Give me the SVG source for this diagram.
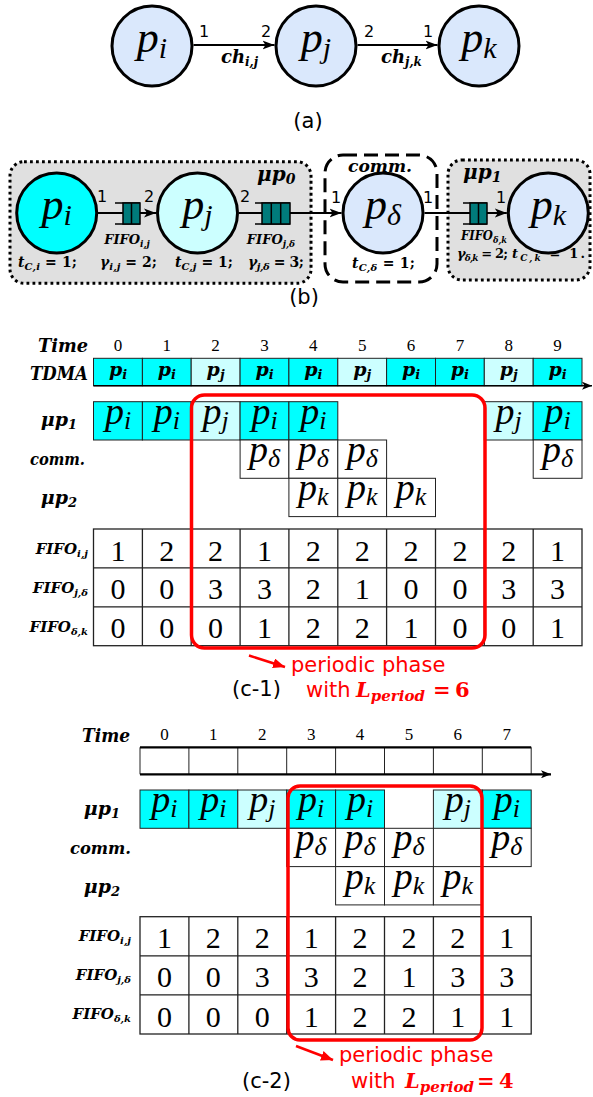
<svg xmlns="http://www.w3.org/2000/svg" width="593" height="1097" viewBox="0 0 593 1097">
<defs>
<style>
.sans{font-family:"DejaVu Sans",sans-serif}
.mi{font-family:"Liberation Serif","Times New Roman",serif;font-style:italic}
.mb{font-family:"DejaVu Serif",serif;font-style:italic;font-weight:bold}
.up{font-style:normal}
.rm{font-family:"Liberation Serif","Times New Roman",serif}
.node{stroke:#000;stroke-width:3}
.cell{stroke:#222;stroke-width:1}
.cy{fill:#00ffff}
.lc{fill:#ccffff}
.bl{fill:#dae8fc}
.wh{fill:#fff}
.edge{stroke:#000;stroke-width:2;fill:none}
.red{fill:none;stroke:#ff0000;stroke-width:3.5}
.rt{fill:#ff0000}
.q{fill:#007b7b;stroke:#000;stroke-width:1.5}
.ql{stroke:#000;stroke-width:1.5;fill:none}
.grp{fill:#e0e0e0;stroke:#000;stroke-width:3;stroke-dasharray:2.8 3.2}
.dash{fill:none;stroke:#000;stroke-width:3;stroke-dasharray:14 7}
</style>
<marker id="arr" viewBox="0 0 12 10" refX="12" refY="5" markerWidth="12" markerHeight="10" markerUnits="userSpaceOnUse" orient="auto"><path d="M0,0.5 L12,5 L0,9.5 L3,5 Z" fill="#000"/></marker>
<marker id="tarr" viewBox="0 0 10 8" refX="10" refY="4" markerWidth="10" markerHeight="8" markerUnits="userSpaceOnUse" orient="auto"><path d="M0,0 L10,4 L0,8 L2.5,4 Z" fill="#000"/></marker>
<marker id="rarr" viewBox="0 0 12 10" refX="12" refY="5" markerWidth="12" markerHeight="10" markerUnits="userSpaceOnUse" orient="auto"><path d="M0,0 L12,5 L0,10 Z" fill="#ff0000"/></marker>
</defs>
<rect width="593" height="1097" fill="#fff"/>

<!-- (a) process graph -->
<g id="a-edges">
<path class="edge" d="M193.5,45 H274.5" marker-end="url(#arr)"/>
<path class="edge" d="M357.5,45 H437.5" marker-end="url(#arr)"/>
<g class="sans" font-size="16" text-anchor="middle">
<text x="204" y="37">1</text><text x="266" y="37">2</text>
<text x="369" y="37">2</text><text x="428" y="37">1</text>
</g>
<text class="mb" x="239.5" y="63" font-size="18" text-anchor="middle">ch<tspan font-size="12" dy="3">i,j</tspan></text>
<text class="mb" x="401.5" y="63" font-size="18" text-anchor="middle">ch<tspan font-size="12" dy="3">j,k</tspan></text>
</g>
<g id="a-pi"><circle class="node bl" cx="152" cy="46" r="40"/><text class="mi" x="152" y="52" text-anchor="middle" font-size="44">p<tspan font-size="30" dy="6">i</tspan></text></g>
<g id="a-pj"><circle class="node bl" cx="316" cy="46" r="40"/><text class="mi" x="316" y="52" text-anchor="middle" font-size="44">p<tspan font-size="30" dy="6">j</tspan></text></g>
<g id="a-pk"><circle class="node bl" cx="479" cy="46" r="40"/><text class="mi" x="479" y="52" text-anchor="middle" font-size="44">p<tspan font-size="30" dy="6">k</tspan></text></g>
<text class="sans" x="308" y="128" font-size="21" text-anchor="middle">(a)</text>

<!-- (b) mapped graph with FIFO channels -->
<g id="b-mp0"><rect class="grp" x="10" y="161.7" width="301" height="121.6" rx="14"/>
<text class="mb" x="257" y="181" font-size="20">μp<tspan font-size="14" dy="3">0</tspan></text></g>
<g id="b-comm"><rect class="dash" x="325" y="155" width="112" height="127" rx="18"/>
<text class="mb" x="348" y="172" font-size="17" textLength="64" lengthAdjust="spacingAndGlyphs">comm.</text></g>
<g id="b-mp1"><rect class="grp" x="448" y="160" width="142" height="120" rx="14"/>
<text class="mb" x="463" y="179" font-size="20">μp<tspan font-size="14" dy="3">1</tspan></text></g>

<g id="b-edges">
<path class="edge" d="M98,213 H123"/>
<path class="edge" d="M140,213 H156" marker-end="url(#arr)"/>
<path class="edge" d="M239,213 H262"/>
<path class="edge" d="M290,213 H341.5" marker-end="url(#arr)"/>
<path class="edge" d="M424.5,213 H470"/>
<path class="edge" d="M487,213 H506.8" marker-end="url(#arr)"/>
<g class="sans" font-size="16" text-anchor="middle">
<text x="102" y="202">1</text><text x="149" y="202">2</text><text x="245" y="202">2</text>
<text x="336" y="203">1</text><text x="428" y="203">1</text><text x="501" y="203">1</text>
</g>
</g>
<g id="b-fifo-ij">
<path class="ql" d="M115,203 H140 M115,224 H140"/>
<rect class="q" x="123" y="203" width="17" height="21"/>
<path class="ql" d="M131.5,203 V224"/>
<text class="mb" x="127" y="244" font-size="13" text-anchor="middle">FIFO<tspan font-size="9" dy="3">i,j</tspan></text>
</g>
<g id="b-fifo-jd">
<path class="ql" d="M255,203 H290 M255,224 H290"/>
<rect class="q" x="262" y="203" width="28" height="21"/>
<path class="ql" d="M271.3,203 V224 M280.7,203 V224"/>
<text class="mb" x="271" y="244" font-size="13" text-anchor="middle">FIFO<tspan font-size="9" dy="3">j,δ</tspan></text>
</g>
<g id="b-fifo-dk">
<path class="ql" d="M463,203 H487 M463,224 H487"/>
<rect class="q" x="470" y="203" width="17" height="21"/>
<path class="ql" d="M478.5,203 V224"/>
<text class="mb" x="461" y="240" font-size="12" textLength="46" lengthAdjust="spacingAndGlyphs">FIFO<tspan font-size="8.5" dy="3">δ,k</tspan></text>
</g>
<g id="b-pi"><circle class="node cy" cx="56.7" cy="213" r="40"/><text class="mi" x="56.7" y="219" text-anchor="middle" font-size="44">p<tspan font-size="30" dy="6">i</tspan></text></g>
<g id="b-pj"><circle class="node lc" cx="197.5" cy="213" r="40"/><text class="mi" x="197.5" y="219" text-anchor="middle" font-size="44">p<tspan font-size="30" dy="6">j</tspan></text></g>
<g id="b-pd"><circle class="node bl" cx="383" cy="213" r="40"/><text class="mi" x="383" y="219" text-anchor="middle" font-size="44">p<tspan font-size="30" dy="6">δ</tspan></text></g>
<g id="b-pk"><circle class="node bl" cx="548.3" cy="213" r="40"/><text class="mi" x="548.3" y="219" text-anchor="middle" font-size="44">p<tspan font-size="30" dy="6">k</tspan></text></g>
<g id="b-params" class="mb" font-size="14" lengthAdjust="spacingAndGlyphs">
<text x="18" y="267" textLength="59">t<tspan font-size="10" dy="3">C,i</tspan><tspan class="up" dy="-3"> = 1;</tspan></text>
<text x="100" y="267" textLength="57">γ<tspan font-size="10" dy="3">i,j</tspan><tspan class="up" dy="-3"> = 2;</tspan></text>
<text x="175" y="267" textLength="58">t<tspan font-size="10" dy="3">C,j</tspan><tspan class="up" dy="-3"> = 1;</tspan></text>
<text x="248" y="267" textLength="56">γ<tspan font-size="10" dy="3">j,δ</tspan><tspan class="up" dy="-3"> = 3;</tspan></text>
<text x="352" y="268" textLength="63">t<tspan font-size="10" dy="3">C,δ</tspan><tspan class="up" dy="-3"> = 1;</tspan></text>
<text x="457" y="258" font-size="13" textLength="51">γ<tspan font-size="9" dy="3">δ,k</tspan><tspan class="up" dy="-3"> = 2;</tspan></text>
<text x="512" y="258" font-size="13" textLength="73">t<tspan font-size="9" dy="3">C,k</tspan><tspan class="up" dy="-3"> = 1.</tspan></text>
</g>
<text class="sans" x="304" y="304" font-size="21" text-anchor="middle">(b)</text>

<!-- (c-1) schedule with TDMA -->
<g id="c1-labels" class="mb">
<text x="88" y="352" font-size="19" text-anchor="end" textLength="50" lengthAdjust="spacingAndGlyphs">Time</text>
<text x="88" y="380" font-size="19" text-anchor="end" textLength="58" lengthAdjust="spacingAndGlyphs">TDMA</text>
<text x="77" y="426" font-size="19" text-anchor="end">μp<tspan font-size="13" dy="3">1</tspan></text>
<text x="85" y="465" font-size="17" text-anchor="end" textLength="55" lengthAdjust="spacingAndGlyphs">comm.</text>
<text x="77" y="504" font-size="19" text-anchor="end">μp<tspan font-size="13" dy="3">2</tspan></text>
<text x="88" y="554" font-size="15" text-anchor="end">FIFO<tspan font-size="10" dy="3">i,j</tspan></text>
<text x="88" y="593" font-size="15" text-anchor="end">FIFO<tspan font-size="10" dy="3">j,δ</tspan></text>
<text x="88" y="632" font-size="15" text-anchor="end">FIFO<tspan font-size="10" dy="3">δ,k</tspan></text>
</g>
<text class="rm" font-size="17" text-anchor="middle" y="351" x="118 166.8 215.6 264.5 313.3 362.2 411 459.9 508.7 557.6">0123456789</text>
<g id="c1-tdma">
<g class="cell">
<rect class="cy" x="93.5" y="358.3" width="48.9" height="27.4"/><rect class="cy" x="142.4" y="358.3" width="48.8" height="27.4"/>
<rect class="lc" x="191.2" y="358.3" width="48.9" height="27.4"/><rect class="cy" x="240.1" y="358.3" width="48.8" height="27.4"/>
<rect class="cy" x="288.9" y="358.3" width="48.9" height="27.4"/><rect class="lc" x="337.8" y="358.3" width="48.8" height="27.4"/>
<rect class="cy" x="386.6" y="358.3" width="48.9" height="27.4"/><rect class="cy" x="435.5" y="358.3" width="48.8" height="27.4"/>
<rect class="lc" x="484.3" y="358.3" width="48.9" height="27.4"/><rect class="cy" x="533.2" y="358.3" width="48.8" height="27.4"/>
</g>
<path d="M93.5,385.7 H592" stroke="#000" stroke-width="1.5" marker-end="url(#tarr)"/>
<g class="mb" font-size="19" text-anchor="middle">
<text x="118" y="376">p<tspan font-size="13" dy="3">i</tspan></text>
<text x="166.8" y="376">p<tspan font-size="13" dy="3">i</tspan></text>
<text x="215.6" y="376">p<tspan font-size="13" dy="3">j</tspan></text>
<text x="264.5" y="376">p<tspan font-size="13" dy="3">i</tspan></text>
<text x="313.3" y="376">p<tspan font-size="13" dy="3">i</tspan></text>
<text x="362.2" y="376">p<tspan font-size="13" dy="3">j</tspan></text>
<text x="411" y="376">p<tspan font-size="13" dy="3">i</tspan></text>
<text x="459.9" y="376">p<tspan font-size="13" dy="3">i</tspan></text>
<text x="508.7" y="376">p<tspan font-size="13" dy="3">j</tspan></text>
<text x="557.6" y="376">p<tspan font-size="13" dy="3">i</tspan></text>
</g>
</g>
<g id="c1-gantt">
<g class="cell">
<rect class="cy" x="93.5" y="401.7" width="48.9" height="38.3"/><rect class="cy" x="142.4" y="401.7" width="48.8" height="38.3"/>
<rect class="lc" x="191.2" y="401.7" width="48.9" height="38.3"/><rect class="cy" x="240.1" y="401.7" width="48.8" height="38.3"/>
<rect class="cy" x="288.9" y="401.7" width="48.9" height="38.3"/>
<rect class="lc" x="484.3" y="401.7" width="48.9" height="38.3"/><rect class="cy" x="533.2" y="401.7" width="48.8" height="38.3"/>
<rect class="wh" x="240.1" y="440" width="48.8" height="38.3"/><rect class="wh" x="288.9" y="440" width="48.9" height="38.3"/>
<rect class="wh" x="337.8" y="440" width="48.8" height="38.3"/><rect class="wh" x="533.2" y="440" width="48.8" height="38.3"/>
<rect class="wh" x="288.9" y="478.3" width="48.9" height="38.3"/><rect class="wh" x="337.8" y="478.3" width="48.8" height="38.3"/>
<rect class="wh" x="386.6" y="478.3" width="48.9" height="38.3"/>
</g>
<g class="mi" font-size="38" text-anchor="middle">
<text x="118" y="423.7">p<tspan font-size="26" dy="5">i</tspan></text>
<text x="166.8" y="423.7">p<tspan font-size="26" dy="5">i</tspan></text>
<text x="215.6" y="423.7">p<tspan font-size="26" dy="5">j</tspan></text>
<text x="264.5" y="423.7">p<tspan font-size="26" dy="5">i</tspan></text>
<text x="313.3" y="423.7">p<tspan font-size="26" dy="5">i</tspan></text>
<text x="508.7" y="423.7">p<tspan font-size="26" dy="5">j</tspan></text>
<text x="557.6" y="423.7">p<tspan font-size="26" dy="5">i</tspan></text>
<text x="264.5" y="462">p<tspan font-size="26" dy="5">δ</tspan></text>
<text x="313.3" y="462">p<tspan font-size="26" dy="5">δ</tspan></text>
<text x="362.2" y="462">p<tspan font-size="26" dy="5">δ</tspan></text>
<text x="557.6" y="462">p<tspan font-size="26" dy="5">δ</tspan></text>
<text x="313.3" y="500.3">p<tspan font-size="26" dy="5">k</tspan></text>
<text x="362.2" y="500.3">p<tspan font-size="26" dy="5">k</tspan></text>
<text x="411" y="500.3">p<tspan font-size="26" dy="5">k</tspan></text>
</g>
</g>
<g id="c1-fifo">
<rect x="93.5" y="529" width="488.5" height="116.7" fill="#fff" stroke="#222" stroke-width="1.3"/>
<path d="M93.5,567.9 H582 M93.5,606.8 H582 M142.4,529 V645.7 M191.2,529 V645.7 M240.1,529 V645.7 M288.9,529 V645.7 M337.8,529 V645.7 M386.6,529 V645.7 M435.5,529 V645.7 M484.3,529 V645.7 M533.2,529 V645.7" stroke="#222" stroke-width="1.3"/>
<g class="rm" font-size="30" text-anchor="middle">
<text y="560.5" x="118 166.8 215.6 264.5 313.3 362.2 411 459.9 508.7 557.6">1221222221</text>
<text y="599.4" x="118 166.8 215.6 264.5 313.3 362.2 411 459.9 508.7 557.6">0033210033</text>
<text y="638.3" x="118 166.8 215.6 264.5 313.3 362.2 411 459.9 508.7 557.6">0001221001</text>
</g>
</g>
<g id="c1-period">
<rect class="red" x="191.5" y="395" width="293.5" height="253" rx="13"/>
<path d="M249,655.5 L285,667" stroke="#ff0000" stroke-width="2.5" marker-end="url(#rarr)"/>
<text class="sans rt" x="291" y="672" font-size="21">periodic phase</text>
<text class="sans rt" x="306" y="697" font-size="21">with</text>
<text class="mb rt" x="356" y="697" font-size="21">L<tspan font-size="15" dy="4">period</tspan></text>
<text class="mb up rt" x="433" y="697" font-size="21">=</text>
<text class="mb up rt" x="455" y="697" font-size="21">6</text>
</g>
<text class="sans" x="232" y="696" font-size="21">(c-1)</text>

<!-- (c-2) schedule without TDMA -->
<g id="c2-labels" class="mb">
<text x="130" y="742" font-size="19" text-anchor="end" textLength="48" lengthAdjust="spacingAndGlyphs">Time</text>
<text x="120" y="815" font-size="19" text-anchor="end">μp<tspan font-size="13" dy="3">1</tspan></text>
<text x="131" y="854" font-size="17" text-anchor="end" textLength="61" lengthAdjust="spacingAndGlyphs">comm.</text>
<text x="120" y="893" font-size="19" text-anchor="end">μp<tspan font-size="13" dy="3">2</tspan></text>
<text x="131" y="941" font-size="15" text-anchor="end">FIFO<tspan font-size="10" dy="3">i,j</tspan></text>
<text x="131" y="980" font-size="15" text-anchor="end">FIFO<tspan font-size="10" dy="3">j,δ</tspan></text>
<text x="131" y="1019" font-size="15" text-anchor="end">FIFO<tspan font-size="10" dy="3">δ,k</tspan></text>
</g>
<text class="rm" font-size="17" text-anchor="middle" y="740" x="164.45 213.35 262.25 311.15 360.05 408.95 457.85 506.75">01234567</text>
<g id="c2-timeline">
<rect x="140" y="747.3" width="391.2" height="27" fill="#fff"/>
<path d="M140,747.3 V774.3 M188.9,747.3 V774.3 M237.8,747.3 V774.3 M286.7,747.3 V774.3 M335.6,747.3 V774.3 M384.5,747.3 V774.3 M433.4,747.3 V774.3 M482.3,747.3 V774.3 M531.2,747.3 V774.3" stroke="#222" stroke-width="1"/>
<path d="M140,747.3 H531.2" stroke="#000" stroke-width="2.2"/>
<path d="M140,774.3 H551" stroke="#000" stroke-width="2.2" marker-end="url(#tarr)"/>
</g>
<g id="c2-gantt">
<g class="cell">
<rect class="cy" x="140" y="790" width="48.9" height="38.3"/><rect class="cy" x="188.9" y="790" width="48.9" height="38.3"/>
<rect class="lc" x="237.8" y="790" width="48.9" height="38.3"/><rect class="cy" x="286.7" y="790" width="48.9" height="38.3"/>
<rect class="cy" x="335.6" y="790" width="48.9" height="38.3"/>
<rect class="lc" x="433.4" y="790" width="48.9" height="38.3"/><rect class="cy" x="482.3" y="790" width="48.9" height="38.3"/>
<rect class="wh" x="286.7" y="828.3" width="48.9" height="38.3"/><rect class="wh" x="335.6" y="828.3" width="48.9" height="38.3"/>
<rect class="wh" x="384.5" y="828.3" width="48.9" height="38.3"/><rect class="wh" x="482.3" y="828.3" width="48.9" height="38.3"/>
<rect class="wh" x="335.6" y="866.6" width="48.9" height="38.3"/><rect class="wh" x="384.5" y="866.6" width="48.9" height="38.3"/>
<rect class="wh" x="433.4" y="866.6" width="48.9" height="38.3"/>
</g>
<g class="mi" font-size="38" text-anchor="middle">
<text x="164.45" y="812">p<tspan font-size="26" dy="5">i</tspan></text>
<text x="213.35" y="812">p<tspan font-size="26" dy="5">i</tspan></text>
<text x="262.25" y="812">p<tspan font-size="26" dy="5">j</tspan></text>
<text x="311.15" y="812">p<tspan font-size="26" dy="5">i</tspan></text>
<text x="360.05" y="812">p<tspan font-size="26" dy="5">i</tspan></text>
<text x="457.85" y="812">p<tspan font-size="26" dy="5">j</tspan></text>
<text x="506.75" y="812">p<tspan font-size="26" dy="5">i</tspan></text>
<text x="311.15" y="850.3">p<tspan font-size="26" dy="5">δ</tspan></text>
<text x="360.05" y="850.3">p<tspan font-size="26" dy="5">δ</tspan></text>
<text x="408.95" y="850.3">p<tspan font-size="26" dy="5">δ</tspan></text>
<text x="506.75" y="850.3">p<tspan font-size="26" dy="5">δ</tspan></text>
<text x="360.05" y="888.6">p<tspan font-size="26" dy="5">k</tspan></text>
<text x="408.95" y="888.6">p<tspan font-size="26" dy="5">k</tspan></text>
<text x="457.85" y="888.6">p<tspan font-size="26" dy="5">k</tspan></text>
</g>
</g>
<g id="c2-fifo">
<rect x="140" y="916.7" width="391.2" height="117.3" fill="#fff" stroke="#222" stroke-width="1.3"/>
<path d="M140,955.8 H531.2 M140,994.9 H531.2 M188.9,916.7 V1034 M237.8,916.7 V1034 M286.7,916.7 V1034 M335.6,916.7 V1034 M384.5,916.7 V1034 M433.4,916.7 V1034 M482.3,916.7 V1034" stroke="#222" stroke-width="1.3"/>
<g class="rm" font-size="30" text-anchor="middle">
<text y="948.3" x="164.45 213.35 262.25 311.15 360.05 408.95 457.85 506.75">12212221</text>
<text y="987.4" x="164.45 213.35 262.25 311.15 360.05 408.95 457.85 506.75">00332133</text>
<text y="1026.5" x="164.45 213.35 262.25 311.15 360.05 408.95 457.85 506.75">00012211</text>
</g>
</g>
<g id="c2-period">
<rect class="red" x="288" y="786" width="194" height="254" rx="12"/>
<path d="M296,1046 L333,1060" stroke="#ff0000" stroke-width="2.5" marker-end="url(#rarr)"/>
<text class="sans rt" x="339" y="1062" font-size="21">periodic phase</text>
<text class="sans rt" x="351" y="1088" font-size="21">with</text>
<text class="mb rt" x="405" y="1088" font-size="21">L<tspan font-size="15" dy="4">period</tspan></text>
<text class="mb up rt" x="477" y="1088" font-size="21">=</text>
<text class="mb up rt" x="499" y="1088" font-size="21">4</text>
</g>
<text class="sans" x="242" y="1088" font-size="21">(c-2)</text>
</svg>
